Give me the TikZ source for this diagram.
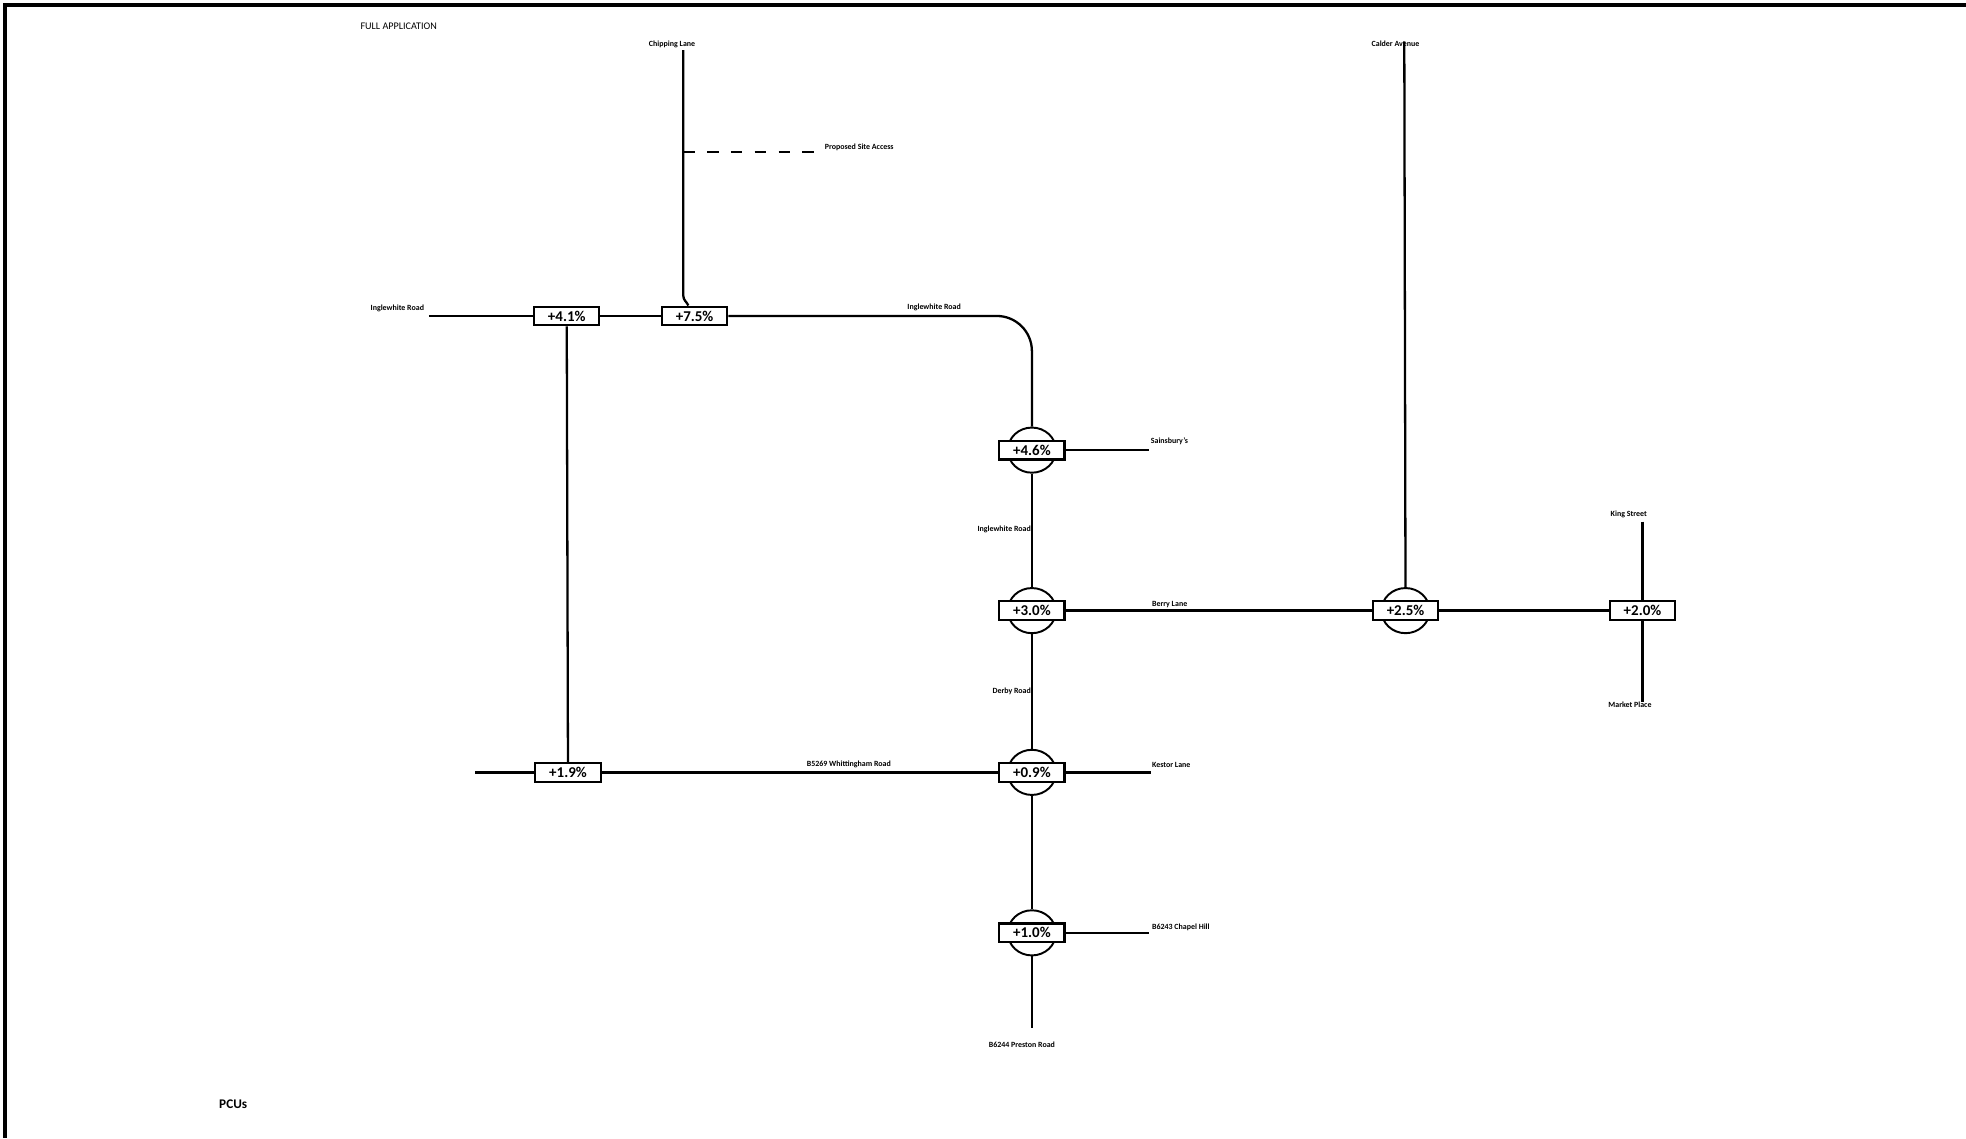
\documentclass[tikz,border=0pt]{standalone}
\usepackage{fontspec}
\setmainfont{Carlito}
\usetikzlibrary{positioning, shapes.geometric, calc}

\begin{document}
\begin{tikzpicture}[
  x=0.05cm, y=-0.05cm,
  road/.style={line width=2.6pt},
  lbl/.style={font=\fontsize{9}{10}\selectfont\bfseries, inner sep=1pt},
  jbox/.style={draw, fill=white, line width=2.4pt, minimum width=2.6cm, minimum height=0.75cm, inner sep=0pt, font=\fontsize{17}{19}\selectfont\bfseries},
  rabout/.style={draw, ellipse, fill=white, line width=2.2pt, minimum width=1.92cm, minimum height=1.8cm, inner sep=0pt}
]
\useasboundingbox (0,0) rectangle (1568,908);

% frame
\draw[line width=4pt] (1568,4) -- (4,4) -- (4,908);

% roundabouts (circle under the box)
\foreach \n/\x/\y in {46/823/359, 30/823/487, 25/1121/487, 09/823/616, 10/823/744} {
  \node[rabout] (c\n) at (\x,\y) {};
}

% junction boxes
\foreach \n/\x/\y/\v in {41/452/252/+4.1\%, 75/554/252/+7.5\%, 46/823/359/+4.6\%,
    30/823/487/+3.0\%, 25/1121/487/+2.5\%, 20/1310/487/+2.0\%,
    09/823/616/+0.9\%, 10/823/744/+1.0\%, 19/453/616/+1.9\%} {
  \node[jbox] (j\n) at (\x,\y) {\v};
}

% road ends
\coordinate (iwest) at (342,252);
\coordinate (chip) at (545,40);
\coordinate (acc1) at (545,121);
\coordinate (acc2) at (652,121);
\coordinate (sain) at (916,359);
\coordinate (calder) at (1120,33);
\coordinate (king) at (1310,416);
\coordinate (market) at (1310,560);
\coordinate (kestor) at (918,616);
\coordinate (wwest) at (379,616);
\coordinate (chapel) at (916,744);
\coordinate (preston) at (823,820);

% roads
\draw[road] (iwest) -- (j41) -- (j75);
\draw[road] (chip) -- (545,236) to[out=-90,in=115] ($(j75.north)+(-5,0)$);
\draw[road, dash pattern=on 13pt off 14pt] (acc1) -- (acc2);
\draw[road, rounded corners=1.4cm] (j75.east) -| (c46.north);
\draw[road] (j46) -- (sain);
\draw[road] (c46) -- (c30);
\draw[road] (j30) -- (j25) -- (j20);
\draw[road] (calder) -- (c25);
\draw[road] (king) -- (j20) -- (market);
\draw[road] (c30) -- (c09);
\draw[road] (j41) -- (j19);
\draw[road] (wwest) -- (j19) -- (j09) -- (kestor);
\draw[road] (c09) -- (c10);
\draw[road] (j10) -- (chapel);
\draw[road] (c10) -- (preston);

% road names
\node[lbl, anchor=base east] (l-iwest) at (339,248) {Inglewhite Road};
\node[lbl, anchor=south] (l-chip) at (536,39) {Chipping Lane};
\node[lbl, anchor=base west] (l-acc) at (657,119) {Proposed Site Access};
\node[lbl, anchor=south] (l-inorth) at (745,249) {Inglewhite Road};
\node[lbl, anchor=base west] (l-sain) at (917,354) {Sainsbury's};
\node[lbl, anchor=east] (l-isouth) at (823,422) {Inglewhite Road};
\node[lbl, anchor=base west] (l-berry) at (918,484) {Berry Lane};
\node[lbl, anchor=south] (l-calder) at (1113,38) {Calder Avenue};
\node[lbl, anchor=south] (l-king) at (1299,414) {King Street};
\node[lbl, anchor=north] (l-market) at (1300,559) {Market Place};
\node[lbl, anchor=east] (l-derby) at (823,551) {Derby Road};
\node[lbl, anchor=south] (l-whit) at (677,613) {B5269 Whittingham Road};
\node[lbl, anchor=base west] (l-kestor) at (918,612) {Kestor Lane};
\node[lbl, anchor=base west] (l-chapel) at (918,741) {B6243 Chapel Hill};
\node[lbl] (l-preston) at (815,833) {B6244 Preston Road};

% titles
\node[font=\fontsize{11.5}{13}\selectfont] (title) at (318,21) {FULL APPLICATION};
\node[font=\fontsize{15}{17}\selectfont\bfseries] (units) at (186,881) {PCUs};

\end{tikzpicture}
\end{document}
